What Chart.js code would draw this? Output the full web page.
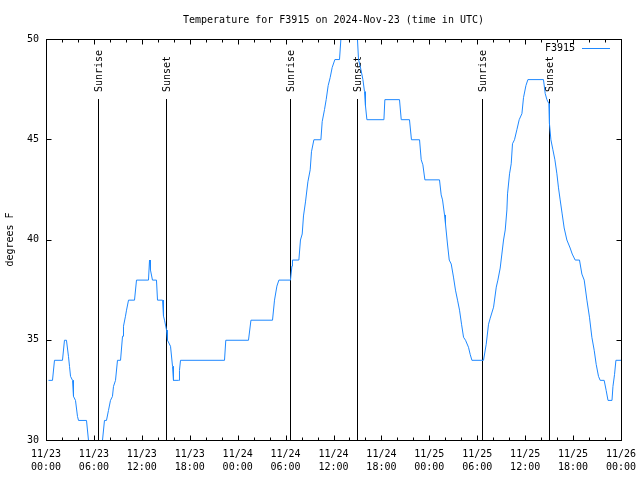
<!DOCTYPE html>
<html><head><meta charset="utf-8">
<script src="https://cdn.jsdelivr.net/npm/chart.js@4"></script>
<style>html,body{margin:0;padding:0;background:#fff}</style>
</head><body>
<canvas id="c" width="640" height="480"></canvas>
<script>
const seriesName = 'F3915';
const titleText = 'Temperature for F3915 on 2024-Nov-23 (time in UTC)';
const yAxisTitle = 'degrees F';
const hours = [0.25,0.75,1.00,2.00,2.25,2.50,2.75,2.88,3.01,3.26,3.38,3.63,3.88,4.01,5.01,5.26,5.6,6.7,7.01,7.26,7.51,7.76,8.01,8.26,8.39,8.64,8.89,9.27,9.52,9.64,9.89,10.02,10.27,11.02,11.27,12.77,12.90,13.02,13.27,13.77,13.90,14.53,14.65,14.78,15.03,15.15,15.53,15.78,15.90,16.53,16.65,16.78,22.29,22.45,25.29,25.6,28.3,28.55,28.85,29.1,30.55,30.73,30.8,31.6,31.8,32.02,32.18,32.43,32.73,33.02,33.18,33.48,34.36,34.52,34.81,35.02,35.27,35.52,35.77,36.11,36.69,36.86,37.2,38.6,38.94,39.07,39.37,39.62,39.82,39.94,40.12,42.25,42.37,44.2,44.42,45.45,45.7,46.71,46.92,47.13,47.38,49.21,49.42,49.59,49.84,49.96,50.21,50.43,50.68,50.96,51.21,51.47,51.72,51.97,52.22,52.47,52.84,53.05,53.27,54.72,55.06,55.35,55.56,55.98,56.32,56.52,56.81,57.02,57.23,57.44,57.65,57.73,57.98,58.19,58.35,58.6,58.9,59.19,59.53,59.73,60.03,60.28,62.23,62.45,62.66,62.91,62.98,63.16,63.41,63.66,63.91,64.11,64.32,64.57,64.82,65.16,65.57,65.83,66.2,66.74,67.04,67.33,67.67,67.99,68.29,68.58,68.83,69.12,69.33,69.83,70.08,70.31,70.81,70.93,71.13,71.3,71.96];
const temps = [33,33,34,34,35,35,34.2,33.7,33.2,33,32.2,32,31.2,31,31,30,29.4,29.4,30,31,31,31.5,32,32.2,32.7,33,34,34,35.2,35.7,36.2,36.5,37,37,38,38,39,38.5,38,38,37,37,36.2,36,35.5,35,34.7,33.7,33,33,33.5,34,34,35,35,36,36,37,37.7,38,38,38.7,39,39,40,40.3,41.2,41.9,42.9,43.5,44.4,45,45,45.9,46.5,47,47.7,48.1,48.6,49,49,50,50.5,50.5,50,49,48.5,48,47.4,46.7,46,46,47,47,46,46,45,45,44,43.75,43,43,42.25,42,41.25,40.8,39.8,39,38.8,38.15,37.5,37,36.5,35.8,35.15,35,34.65,34.3,34,34,34.8,35.8,36.1,36.65,37.65,38,38.6,39.3,40,40.5,41.5,42.3,43.3,43.8,44.8,45,45.5,46,46.3,47.1,47.7,48,48,47.3,47,46.8,45.8,45,44.5,44,43.3,42.6,42,41.3,40.6,40,39.6,39.3,39,39,38.3,38,37,36.15,35.15,34.5,33.8,33.2,33,33,32.5,32,32,32.7,33.3,34,34];
const sunriseHours = [6.53, 30.55, 54.6];
const sunsetHours = [15.0, 39.0, 63.0];
const tickDates = ['11/23','11/23','11/23','11/23','11/24','11/24','11/24','11/24','11/25','11/25','11/25','11/25','11/26'];
const tickTimes = ['00:00','06:00','12:00','18:00','00:00','06:00','12:00','18:00','00:00','06:00','12:00','18:00','00:00'];
const yMin = 30, yMax = 50, yStep = 5;
const xMax = 72, majorStepHours = 6, minorStepHours = 2;

const FONT = '"DejaVu Sans Mono", "Liberation Mono", monospace';
const LINE_COLOR = '#1e88ff';
Chart.defaults.font.family = FONT;
Chart.defaults.font.size = 10;
Chart.defaults.color = '#000';

const sunPlugin = {
  id: 'sun',
  beforeDatasetsDraw(chart) {
    const {ctx, chartArea: a, scales: {x}} = chart;
    ctx.save();
    ctx.strokeStyle = '#000'; ctx.lineWidth = 1; ctx.fillStyle = '#000';
    ctx.font = '10px ' + FONT;
    const draw = (h, label) => {
      const px = Math.round(x.getPixelForValue(h)) + 0.5;
      ctx.beginPath(); ctx.moveTo(px, a.top + 60); ctx.lineTo(px, a.bottom); ctx.stroke();
      ctx.save();
      ctx.translate(px + 1, a.top + 53);
      ctx.rotate(-Math.PI / 2);
      ctx.textAlign = 'left'; ctx.textBaseline = 'middle';
      ctx.fillText(label, 0, 0);
      ctx.restore();
    };
    sunriseHours.forEach(h => draw(h, 'Sunrise'));
    sunsetHours.forEach(h => draw(h, 'Sunset'));
    ctx.restore();
    // half-pixel shift so horizontal runs of the data line land on pixel rows
    ctx.save();
    ctx.translate(0.5, 0.5);
  },
  afterDatasetsDraw(chart) {
    chart.ctx.restore();
  }
};

const framePlugin = {
  id: 'frame',
  afterDatasetsDraw(chart) {
    const {ctx, chartArea: a, scales: {x, y}} = chart;
    ctx.save();
    ctx.strokeStyle = '#000'; ctx.lineWidth = 1;
    const L = Math.round(a.left) + 0.5, R = Math.round(a.right) + 0.5;
    const T = Math.round(a.top) + 0.5, B = Math.round(a.bottom) + 0.5;
    ctx.strokeRect(L, T, R - L, B - T);
    ctx.beginPath();
    x.ticks.forEach(t => {
      const px = Math.round(x.getPixelForValue(t.value)) + 0.5;
      const len = (t.value % majorStepHours === 0) ? 5 : 3;
      ctx.moveTo(px, B); ctx.lineTo(px, B - len);
      ctx.moveTo(px, T); ctx.lineTo(px, T + len);
    });
    y.ticks.forEach(t => {
      const py = Math.round(y.getPixelForValue(t.value)) + 0.5;
      ctx.moveTo(L, py); ctx.lineTo(L + 5, py);
      ctx.moveTo(R, py); ctx.lineTo(R - 5, py);
    });
    ctx.stroke();
    // legend
    const ly = a.top + 9.5;
    ctx.fillStyle = '#000'; ctx.font = '10px ' + FONT;
    ctx.textAlign = 'right'; ctx.textBaseline = 'middle';
    ctx.fillText(seriesName, a.right - 46, ly);
    ctx.strokeStyle = LINE_COLOR;
    ctx.beginPath(); ctx.moveTo(a.right - 39, ly); ctx.lineTo(a.right - 11, ly); ctx.stroke();
    ctx.restore();
  }
};

new Chart(document.getElementById('c'), {
  type: 'line',
  data: {
    datasets: [{
      label: seriesName,
      data: hours.map((h, i) => ({x: h, y: temps[i]})),
      borderColor: LINE_COLOR,
      borderWidth: 1,
      pointRadius: 0,
      tension: 0,
      fill: false
    }]
  },
  options: {
    responsive: false,
    animation: false,
    devicePixelRatio: 1,
    layout: {padding: {left: 0, right: 19, top: 0, bottom: 0}},
    plugins: {
      legend: {display: false},
      tooltip: {enabled: false},
      title: {
        display: true, text: titleText, color: '#000', fullSize: false,
        font: {family: FONT, size: 10, weight: 'normal', lineHeight: 1.2},
        padding: {top: 14, bottom: 13}
      }
    },
    scales: {
      x: {
        type: 'linear', min: 0, max: xMax,
        grid: {display: false, drawTicks: false},
        border: {display: false},
        ticks: {
          stepSize: minorStepHours, autoSkip: false, maxRotation: 0, padding: 8,
          font: {family: FONT, size: 10, lineHeight: 1.27},
          callback: (v) => {
            if (v % majorStepHours !== 0) return '';
            const i = v / majorStepHours;
            return [tickDates[i], tickTimes[i]];
          }
        },
        afterFit: (s) => { s.height = 40; s.paddingLeft = 0; s.paddingRight = 0; }
      },
      y: {
        type: 'linear', min: yMin, max: yMax,
        grid: {display: false, drawTicks: false},
        border: {display: false},
        ticks: {stepSize: yStep, padding: 7, font: {family: FONT, size: 10}},
        title: {display: true, text: yAxisTitle, color: '#000', font: {family: FONT, size: 10}, padding: {top: 4, bottom: 0}},
        afterFit: (s) => { s.width = 46; s.paddingTop = 0; s.paddingBottom = 0; }
      }
    }
  },
  plugins: [sunPlugin, framePlugin]
});
</script>
</body></html>
